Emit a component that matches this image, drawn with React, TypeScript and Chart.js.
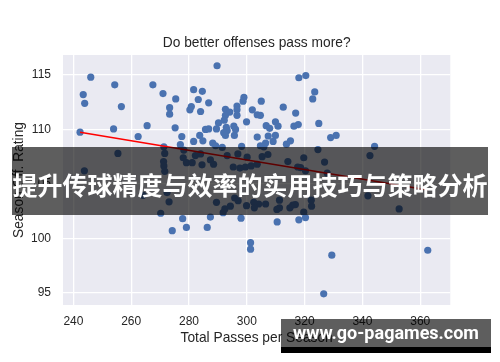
import React, { useEffect, useRef } from "react";
import { Chart, registerables } from "chart.js";

Chart.register(...registerables);

const titleText = "Do better offenses pass more?";
const xTitle = "Total Passes per Season";
const yTitle = "Season Off. Rating";
const bannerText = "提升传球精度与效率的实用技巧与策略分析";
const watermarkText = "www.go-pagames.com";

const xTicks = [240, 260, 280, 300, 320, 340, 360];
const yTicks = [95, 100, 105, 110, 115];

const passes = [
  246.0, 254.3, 243.4, 243.9, 256.6, 267.5, 271.0, 275.4, 273.3, 273.3,
  242.3, 253.9, 265.5, 262.4, 275.2, 277.5, 277.0, 271.3, 255.4, 271.6,
  278.2, 289.7, 318.0, 320.4, 281.6, 284.6, 283.2, 286.8, 280.8, 280.3,
  284.0, 299.0, 298.7, 296.6, 296.6, 292.6, 294.1, 292.6, 296.6, 292.2,
  290.2, 305.0, 301.9, 303.6, 304.7, 299.9, 312.6, 316.9, 317.8, 316.3,
  309.9, 310.8, 306.7, 307.9, 285.7, 286.8, 289.5, 292.9, 293.2, 292.0,
  295.5, 296.1, 295.7, 292.6, 283.7, 281.6, 284.8, 288.2, 289.2, 291.5,
  298.2, 303.6, 307.4, 309.9, 309.1, 306.5, 304.7, 313.7, 315.1, 323.5,
  322.8, 324.9, 329.0, 330.9, 344.2, 342.6, 324.6, 243.8, 271.2, 271.3,
  271.6, 272.4, 273.1, 270.2, 278.0, 279.1, 277.8, 274.2, 279.1, 286.3,
  287.4, 291.8, 292.4, 298.0, 301.3, 301.3, 289.5, 295.8, 297.0, 299.9,
  264.1, 310.5, 318.0, 320.3, 329.4, 326.6, 362.6, 352.7, 341.9, 319.7,
  322.4, 322.3, 315.9, 311.3, 311.3, 306.5, 304.1, 302.4, 326.9, 319.7,
  320.3, 327.8, 318.6, 282.2, 284.0, 287.4, 288.5, 281.1, 284.5, 293.2,
  296.9, 300.1, 305.3, 307.3, 299.5, 301.5, 303.6, 295.3, 297.6, 314.2,
  317.6, 294.3, 302.6, 310.4, 314.9, 316.8, 305.9,
];

const rating = [
  114.8, 114.1, 113.2, 112.4, 112.1, 114.1, 113.3, 112.8, 112.0, 111.4,
  109.75, 110.05, 110.35, 109.35, 110.15, 109.35, 108.6, 108.4, 107.8, 107.8,
  108.1, 115.85, 114.75, 114.95, 113.65, 113.5, 112.75, 112.45, 112.1, 111.8,
  111.65, 112.95, 112.6, 112.15, 111.8, 111.85, 111.6, 111.3, 111.3, 110.85,
  110.6, 112.6, 111.8, 111.35, 111.3, 110.7, 112.05, 111.5, 110.45, 110.3,
  110.7, 110.3, 110.35, 110.1, 110.0, 110.05, 110.05, 110.2, 109.9, 109.7,
  110.3, 110.0, 109.45, 109.45, 109.45, 108.9, 108.95, 108.75, 108.5, 108.35,
  108.45, 109.3, 109.4, 109.45, 108.9, 108.75, 108.5, 108.65, 108.95, 113.45,
  112.8, 110.55, 109.25, 109.45, 108.45, 107.6, 108.15, 106.2, 107.05, 106.65,
  106.15, 104.2, 103.35, 102.3, 107.4, 106.95, 101.8, 100.7, 101.0, 101.0,
  101.95, 102.35, 102.7, 101.85, 99.6, 99.0, 103.3, 103.7, 103.45, 103.0,
  103.95, 101.5, 101.7, 101.9, 98.45, 94.9, 98.9, 102.7, 103.9, 102.4,
  102.95, 103.5, 103.05, 103.5, 102.8, 103.15, 103.15, 103.3, 107.0, 107.4,
  106.2, 106.0, 106.5, 107.6, 107.75, 107.2, 106.8, 106.95, 106.75, 107.6,
  107.75, 107.45, 107.5, 107.7, 106.55, 106.65, 106.8, 106.55, 106.45, 107.05,
  106.55, 102.95, 102.8, 102.65, 102.8, 103.1, 108.4,
];

const fitX = [242.3, 362.6];
const fitY = [109.75, 104.43];

const FONT = "'Liberation Sans', Arial, sans-serif";
const TEXT = "#262626";

const bgPlugin = {
  id: "bgArea",
  beforeDraw(chart: any) {
    const { ctx, chartArea } = chart;
    ctx.save();
    ctx.fillStyle = "#EAEAF2";
    ctx.fillRect(chartArea.left, chartArea.top, chartArea.right - chartArea.left, chartArea.bottom - chartArea.top);
    ctx.restore();
  },
  afterDraw(chart: any) {
    const { ctx, chartArea } = chart;
    ctx.save();
    ctx.fillStyle = TEXT;
    ctx.font = `13.75px ${FONT}`;
    ctx.textAlign = "center";
    ctx.textBaseline = "alphabetic";
    ctx.fillText(titleText, (chartArea.left + chartArea.right) / 2, 46.5);
    ctx.restore();
  },
};

export default function App() {
  const ref = useRef<HTMLCanvasElement>(null);

  useEffect(() => {
    if (!ref.current) return;
    const chart = new Chart(ref.current, {
      type: "scatter",
      data: {
        datasets: [
          {
            type: "line",
            data: fitX.map((x, i) => ({ x, y: fitY[i] })),
            borderColor: "#ff0000",
            borderWidth: 1.6,
            pointRadius: 0,
            fill: false,
            order: 0,
          } as any,
          {
            type: "scatter",
            data: passes.map((x, i) => ({ x, y: rating[i] })),
            backgroundColor: "#4a72b0",
            borderWidth: 0,
            pointRadius: 3.6,
            order: 1,
          },
        ],
      },
      options: {
        animation: false,
        responsive: false,
        devicePixelRatio: 1,
        layout: { padding: { top: 55, right: 49.7, left: 0, bottom: 0 } },
        plugins: { legend: { display: false }, tooltip: { enabled: false }, title: { display: false } },
        scales: {
          x: {
            type: "linear",
            min: 236.4,
            max: 370.4,
            afterBuildTicks: (s: any) => {
              s.ticks = xTicks.map((v) => ({ value: v }));
            },
            afterFit: (s: any) => {
              s.height = 57;
            },
            grid: { color: "#ffffff", lineWidth: 1.3, drawTicks: false },
            border: { display: false },
            ticks: { color: TEXT, font: { family: FONT, size: 12 }, padding: 9, maxRotation: 0 },
            title: {
              display: true,
              text: xTitle,
              color: TEXT,
              font: { family: FONT, size: 13.75 },
              padding: { top: 0, bottom: 15.8 },
            },
          },
          y: {
            type: "linear",
            min: 93.87,
            max: 116.84,
            afterBuildTicks: (s: any) => {
              s.ticks = yTicks.map((v) => ({ value: v }));
            },
            afterFit: (s: any) => {
              s.width = 63;
            },
            grid: { color: "#ffffff", lineWidth: 1.3, drawTicks: false },
            border: { display: false },
            ticks: { color: TEXT, font: { family: FONT, size: 12 }, padding: 12 },
            title: {
              display: true,
              text: yTitle,
              color: TEXT,
              font: { family: FONT, size: 13.75 },
              padding: { top: 10.8, bottom: 0 },
            },
          },
        },
      },
      plugins: [bgPlugin],
    });
    return () => chart.destroy();
  }, []);

  return (
    <div style={{ position: "fixed", left: 0, top: 0, width: 500, height: 362, background: "#ffffff", overflow: "hidden" }}>
      <canvas ref={ref} width={500} height={362} style={{ width: 500, height: 362, display: "block" }} />
      <div
        style={{
          position: "absolute",
          left: 12,
          top: 147,
          width: 476,
          height: 68,
          background: "rgba(0,0,0,0.63)",
          color: "#ffffff",
          fontFamily: "'Noto Sans CJK SC', sans-serif",
          fontWeight: 700,
          fontSize: 25,
          lineHeight: "68px",
          textAlign: "center",
          whiteSpace: "nowrap",
          paddingTop: 6,
          boxSizing: "border-box",
        }}
      >
        <span style={{ position: "relative", top: -3 }}>{bannerText}</span>
      </div>
      <div
        style={{
          position: "absolute",
          left: 281,
          top: 319,
          width: 210,
          height: 34,
          background: "linear-gradient(to bottom, rgba(0,0,0,0.63) 0px, rgba(0,0,0,0.63) 28px, #000000 28px, #000000 34px)",
          color: "#ffffff",
          fontFamily: "Roboto, 'Open Sans', sans-serif",
          fontWeight: 700,
          fontSize: 18,
          lineHeight: "28px",
          textAlign: "center",
          whiteSpace: "nowrap",
        }}
      >
        {watermarkText}
      </div>
    </div>
  );
}
